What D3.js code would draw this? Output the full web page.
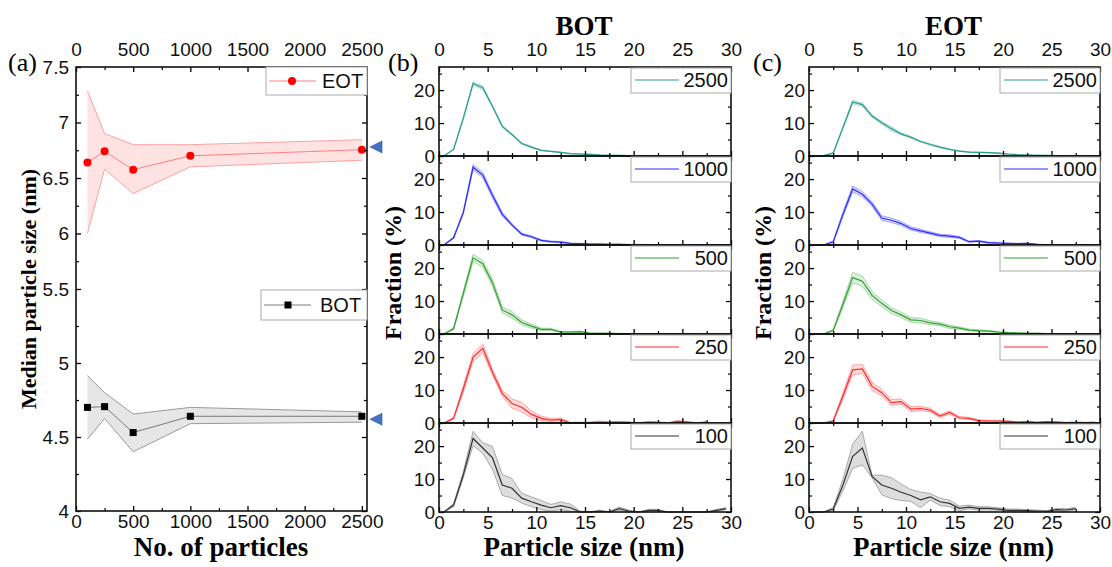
<!DOCTYPE html>
<html lang="en">
<head>
<meta charset="utf-8">
<title>Median particle size and size distributions</title>
<script src="https://cdnjs.cloudflare.com/ajax/libs/d3/7.8.5/d3.min.js"></script>
<style>
 body { margin: 0; background: #fff; }
</style>
</head>
<body>
<svg id="chart" width="1112" height="567"></svg>
<script>
// ---------- panel (a): median size vs number of particles
const nParticles = [100, 250, 500, 1000, 2500];
const eotMedian = [6.64, 6.74, 6.575, 6.70, 6.755];
const eotUpper  = [7.285, 6.90, 6.80, 6.80, 6.845];
const eotLower  = [6.00, 6.58, 6.36, 6.60, 6.66];
const botMedian = [4.70, 4.705, 4.53, 4.64, 4.64];
const botUpper  = [4.915, 4.80, 4.655, 4.70, 4.67];
const botLower  = [4.485, 4.625, 4.40, 4.59, 4.60];
const refMarks  = [6.78, 4.62];   // blue arrows on the right

const xTicksA = [0, 500, 1000, 1500, 2000, 2500];
const xMinorA = [250, 750, 1250, 1750, 2250];
const yTicksA = [4, 4.5, 5, 5.5, 6, 6.5, 7, 7.5];
const yMinorA = [4.25, 4.75, 5.25, 5.75, 6.25, 6.75, 7.25];

// ---------- panels (b),(c): size distributions (bin centres, nm)
const sizeBins = [0.5, 1.5, 2.5, 3.5, 4.5, 5.5, 6.5, 7.5, 8.5, 9.5, 10.5, 11.5, 12.5, 13.5, 14.5,
                  15.5, 16.5, 17.5, 18.5, 19.5, 20.5, 21.5, 22.5, 23.5, 24.5, 25.5, 26.5, 27.5, 28.5, 29.5];
const sampleLabels = ['2500', '1000', '500', '250', '100'];
const sampleColors = ['#2a9d8f', '#2b2bff', '#30a030', '#ff2a2a', '#333333'];

const bot2500 = [0, 2.0, 11.5, 22.0, 20.7, 15.0, 9.0, 6.5, 3.8, 2.7, 1.7, 1.4, 1.1, 0.7, 0.6, 0.5, 0.3, 0.2, 0.2, 0.1, 0.1, 0.1, 0.05, 0.05, 0.05, 0, 0, 0, 0, 0];
const bot2500Err = [0, 0.2, 0.3, 0.5, 0.5, 0.3, 0.3, 0.2, 0.2, 0.2, 0.1, 0.1, 0.1, 0.1, 0.1, 0.1, 0.1, 0.1, 0.05, 0.05, 0.05, 0.05, 0, 0, 0, 0, 0, 0, 0, 0];
const bot1000 = [0, 2.2, 9.9, 23.6, 21.2, 15.0, 9.3, 6.1, 3.3, 2.5, 1.4, 1.0, 0.9, 0.5, 0.4, 0.3, 0.3, 0.2, 0.2, 0.1, 0.1, 0.1, 0.1, 0.1, 0.1, 0.1, 0.05, 0.05, 0.05, 0];
const bot1000Err = [0, 0.2, 0.5, 0.8, 0.8, 0.8, 0.6, 0.4, 0.3, 0.3, 0.2, 0.2, 0.2, 0.1, 0.1, 0.1, 0.1, 0.1, 0.1, 0.1, 0.1, 0.05, 0.05, 0.05, 0.05, 0.05, 0, 0, 0, 0];
const bot500 = [0, 1.6, 12.3, 23.1, 21.3, 15.5, 7.3, 5.8, 3.5, 2.4, 1.4, 1.4, 0.6, 0.6, 0.7, 0.2, 0.2, 0.2, 0.1, 0.1, 0.1, 0.1, 0.05, 0.05, 0.05, 0.05, 0, 0, 0, 0];
const bot500Err = [0, 0.3, 0.8, 1.1, 1.0, 1.0, 0.9, 1.0, 0.8, 0.6, 0.4, 0.3, 0.2, 0.2, 0.2, 0.1, 0.1, 0.1, 0.1, 0.1, 0.05, 0.05, 0.05, 0.05, 0, 0, 0, 0, 0, 0];
const bot250 = [0, 1.4, 10.4, 19.9, 22.7, 15.3, 9.0, 5.9, 4.8, 2.6, 1.4, 0.9, 1.1, 0, 0.1, 0.1, 0.3, 0.2, 0.3, 0.2, 0, 0.3, 0.2, 0, 0.5, 0.3, 0, 0.3, null, null];
const bot250Err = [0, 0.3, 1.0, 1.2, 1.3, 1.0, 0.9, 1.4, 1.5, 1.0, 0.7, 0.5, 0.4, 0.2, 0.2, 0.2, 0.3, 0.2, 0.2, 0.2, 0.1, 0.2, 0.2, 0.1, 0.3, 0.2, 0.1, 0.2, null, null];
const bot100 = [0, 2.1, 11.3, 22.3, 19.4, 16.4, 8.2, 7.2, 4.2, 3.1, 2.1, 1.3, 1.9, 1.3, 0, 0, 0.3, 0, 1.0, 0.3, 0, 0.5, 0.5, 0, 0, 0, 0, 0, 0.5, 1.0];
const bot100Err = [0, 0.5, 1.0, 2.2, 1.6, 3.5, 3.2, 3.0, 1.5, 1.5, 1.4, 1.0, 1.2, 1.1, 0.3, 0.1, 0.3, 0.1, 0.5, 0.3, 0, 0.3, 0.3, 0, 0, 0, 0, 0, 0.3, 0.3];

const eot2500 = [0, 0.1, 0.9, 8.6, 16.4, 15.6, 12.1, 10.1, 8.3, 6.7, 5.7, 4.4, 3.5, 2.7, 2.0, 1.5, 1.2, 1.1, 1.0, 0.9, 0.6, 0.4, 0.3, 0.2, 0.2, 0.1, 0.1, 0.1, 0.1, 0];
const eot2500Err = [0, 0, 0.2, 0.4, 0.5, 0.5, 0.4, 0.4, 0.6, 0.3, 0.3, 0.2, 0.2, 0.2, 0.1, 0.1, 0.1, 0.1, 0.1, 0.1, 0.05, 0.05, 0.05, 0.05, 0, 0, 0, 0, 0, 0];
const eot1000 = [0, 0, 1.0, 9.3, 17.0, 15.4, 12.4, 8.2, 7.5, 6.5, 5.0, 4.3, 3.6, 2.9, 2.7, 2.3, 1.0, 1.2, 0.7, 0.6, 0.5, 0.4, 0.5, 0.2, 0.1, 0.1, 0.1, 0.1, 0.05, 0];
const eot1000Err = [0, 0, 0.3, 0.8, 0.9, 0.8, 0.7, 0.7, 0.7, 0.6, 0.5, 0.5, 0.4, 0.4, 0.4, 0.3, 0.2, 0.2, 0.2, 0.2, 0.1, 0.1, 0.1, 0.1, 0.05, 0.05, 0.05, 0.05, 0, 0];
const eot500 = [0, 0, 1.1, 9.0, 17.1, 16.0, 11.7, 9.3, 7.1, 5.8, 4.3, 4.1, 3.4, 3.0, 2.2, 1.8, 1.2, 1.0, 0.9, 0.6, 0.4, 0.3, 0.2, 0.2, 0.1, 0.1, 0.1, 0.1, 0.1, 0.1];
const eot500Err = [0, 0, 0.3, 1.0, 1.6, 1.6, 1.2, 1.0, 0.9, 0.8, 0.7, 0.7, 0.6, 0.5, 0.5, 0.4, 0.3, 0.3, 0.2, 0.2, 0.1, 0.1, 0.1, 0.1, 0.05, 0.05, 0.05, 0.05, 0.05, 0.05];
const eot250 = [0, 0, 0.6, 8.2, 16.1, 16.4, 11.1, 9.2, 6.2, 6.5, 4.2, 4.4, 3.9, 2.1, 3.2, 1.6, 1.4, 0.7, 0.6, 0.6, 0.5, 0.3, 0.4, 0.2, 0.4, 0.3, 0.1, 0.2, 0.1, 0.2];
const eot250Err = [0, 0, 0.3, 1.0, 1.5, 1.4, 1.2, 1.0, 0.9, 0.8, 0.8, 0.7, 0.6, 0.5, 0.5, 0.4, 0.3, 0.3, 0.2, 0.2, 0.2, 0.1, 0.1, 0.1, 0.1, 0.1, 0.1, 0.1, 0.1, 0.1];
const eot100 = [0, 0, 0.9, 8.2, 16.9, 19.4, 10.8, 8.2, 7.2, 6.0, 5.0, 3.7, 4.6, 3.1, 2.6, 1.1, 1.5, 1.1, 1.1, 0.9, 0.5, 0.5, 0.4, 0.3, 0.2, 0.7, 0.6, 1.0, null, null];
const eot100Err = [0, 0, 0.5, 1.8, 3.7, 5.1, 0.4, 3.0, 3.2, 2.5, 1.8, 2.4, 1.0, 1.1, 1.0, 0.7, 0.6, 0.5, 0.5, 0.4, 0.4, 0.4, 0.3, 0.3, 0.2, 0.4, 0.4, 0.4, null, null];

const xTicksH = [0, 5, 10, 15, 20, 25, 30];
const xMinorH = [2.5, 7.5, 12.5, 17.5, 22.5, 27.5];
const yTicksH = [0, 10, 20];
const yMinorH = [5, 15, 25];

//Display specs
const sansFont = '"Liberation Sans", Arial, sans-serif';
const serifFont = '"Liberation Serif", "Times New Roman", serif';
const svg = d3.select('#chart');

//Inward ticks on one side of a frame
function ticks(g, axisFn, scale, pos, major, minor, labels, pad) {
    const horiz = (axisFn === d3.axisBottom || axisFn === d3.axisTop);
    const t = horiz ? 'translate(0,' + pos + ')' : 'translate(' + pos + ',0)';
    g.append('g').attr('transform', t)
        .call(axisFn(scale).tickValues(minor).tickSizeInner(-3).tickSizeOuter(0).tickFormat(''))
        .call(s => s.select('.domain').remove())
        .call(s => s.selectAll('line').attr('stroke-width', 1.2));
    g.append('g').attr('transform', t)
        .call(axisFn(scale).tickValues(major).tickSizeInner(-5).tickSizeOuter(0).tickPadding(pad)
              .tickFormat(labels ? (d => '' + d) : ''))
        .call(s => s.select('.domain').remove())
        .call(s => s.selectAll('line').attr('stroke-width', 1.3))
        .attr('font-size', 19)
        .attr('font-family', sansFont)
        .call(s => s.selectAll('text').attr('fill', '#111'));
}

function frame(g, x, y) {
    const r = y.range();
    g.append('rect')
        .attr('x', x.range()[0]).attr('y', r[r.length - 1])
        .attr('width', x.range()[1] - x.range()[0])
        .attr('height', r[0] - r[r.length - 1])
        .attr('fill', 'none').attr('stroke', '#111').attr('stroke-width', 1.6);
}

//---------------- panel (a)
const xA = d3.scaleLinear().domain([0, 2545]).range([76, 367]);
const yA = d3.scaleLinear().domain([4, 5.5, 7.5]).range([511, 289, 67]);
const gA = svg.append('g');

const groupsA = [
    {mid: eotMedian, up: eotUpper, lo: eotLower, fill: '#ffe3e3', edge: '#ffa0a0', line: '#ff7f7f', mark: '#ff0000', shape: 'circle'},
    {mid: botMedian, up: botUpper, lo: botLower, fill: '#e6e6e6', edge: '#9a9a9a', line: '#7a7a7a', mark: '#000000', shape: 'square'}
];

groupsA.forEach(function (s) {
    const idx = d3.range(nParticles.length);
    gA.append('path')
        .attr('d', d3.area().x(i => xA(nParticles[i])).y0(i => yA(s.lo[i])).y1(i => yA(s.up[i]))(idx))
        .attr('fill', s.fill);
    [s.up, s.lo].forEach(function (edge) {
        gA.append('path')
            .attr('d', d3.line().x(i => xA(nParticles[i])).y(i => yA(edge[i]))(idx))
            .attr('fill', 'none').attr('stroke', s.edge).attr('stroke-width', 1);
    });
    gA.append('path')
        .attr('d', d3.line().x(i => xA(nParticles[i])).y(i => yA(s.mid[i]))(idx))
        .attr('fill', 'none').attr('stroke', s.line).attr('stroke-width', 1);
    if (s.shape === 'circle') {
        gA.selectAll('.eotpt').data(idx).enter().append('circle')
            .attr('cx', i => xA(nParticles[i])).attr('cy', i => yA(s.mid[i]))
            .attr('r', 4).attr('fill', s.mark);
    } else {
        gA.selectAll('.botpt').data(idx).enter().append('rect')
            .attr('x', i => xA(nParticles[i]) - 3.5).attr('y', i => yA(s.mid[i]) - 3.5)
            .attr('width', 7).attr('height', 7).attr('fill', s.mark);
    }
});

ticks(gA, d3.axisBottom, xA, 511, xTicksA, xMinorA, true, 3);
ticks(gA, d3.axisTop, xA, 67, xTicksA, xMinorA, true, 11);
ticks(gA, d3.axisLeft, yA, 76, yTicksA, yMinorA, true, 7);
ticks(gA, d3.axisRight, yA, 367, yTicksA, yMinorA, false, 0);
frame(gA, xA, yA);

//Reference arrows
gA.selectAll('.ref').data(refMarks).enter().append('path')
    .attr('d', v => 'M370,' + yA(v) + 'L382,' + (yA(v) - 6) + 'L382,' + (yA(v) + 6) + 'Z')
    .attr('fill', '#4472c4').attr('stroke', '#2f5597').attr('stroke-width', 0.6);

//Legends of panel (a)
const legA = [
    {x0: 266, y0: 67, h: 28, label: 'EOT', s: groupsA[0], tx: 322},
    {x0: 261, y0: 290, h: 30, label: 'BOT', s: groupsA[1], tx: 320}
];
legA.forEach(function (l) {
    const cy = l.y0 + l.h / 2;
    gA.append('rect').attr('x', l.x0).attr('y', l.y0).attr('width', 367 - l.x0).attr('height', l.h)
        .attr('fill', '#fff').attr('stroke', '#aaa').attr('stroke-width', 1);
    gA.append('line').attr('x1', l.x0 + 3).attr('x2', l.x0 + 50).attr('y1', cy).attr('y2', cy)
        .attr('stroke', l.s.line).attr('stroke-width', 1);
    if (l.s.shape === 'circle') {
        gA.append('circle').attr('cx', l.x0 + 26).attr('cy', cy).attr('r', 4).attr('fill', l.s.mark);
    } else {
        gA.append('rect').attr('x', l.x0 + 23.5).attr('y', cy - 3.5).attr('width', 7).attr('height', 7).attr('fill', l.s.mark);
    }
    gA.append('text').attr('x', l.tx).attr('y', cy + 7).text(l.label)
        .attr('font-family', sansFont).attr('font-size', 20).attr('fill', '#111');
});

//---------------- panels (b) and (c)
const tops = [67, 156, 245, 334, 423];
const subH = 89;
const columns = [
    {title: 'BOT', tag: '(b)', left: 439, right: 731, tagX: 388, yTitleX: 401,
     vals: [bot2500, bot1000, bot500, bot250, bot100],
     errs: [bot2500Err, bot1000Err, bot500Err, bot250Err, bot100Err]},
    {title: 'EOT', tag: '(c)', left: 809, right: 1100, tagX: 753, yTitleX: 771,
     vals: [eot2500, eot1000, eot500, eot250, eot100],
     errs: [eot2500Err, eot1000Err, eot500Err, eot250Err, eot100Err]}
];

columns.forEach(function (col) {
    const x = d3.scaleLinear().domain([0, 30]).range([col.left, col.right]);
    const gC = svg.append('g');
    tops.forEach(function (top, k) {
        const y = d3.scaleLinear().domain([0, 27]).range([top + subH, top]);
        const v = col.vals[k], e = col.errs[k], color = sampleColors[k];
        const idx = d3.range(sizeBins.length).filter(i => v[i] !== null);
        const g = gC.append('g');
        const lo = i => y(Math.max(0, v[i] - e[i]));
        const hi = i => y(v[i] + e[i]);
        g.append('path')
            .attr('d', d3.area().x(i => x(sizeBins[i])).y0(lo).y1(hi)(idx))
            .attr('fill', color).attr('fill-opacity', 0.17);
        [lo, hi].forEach(function (fy) {
            g.append('path')
                .attr('d', d3.line().x(i => x(sizeBins[i])).y(fy)(idx))
                .attr('fill', 'none').attr('stroke', color).attr('stroke-opacity', 0.45).attr('stroke-width', 0.8);
        });
        g.append('path')
            .attr('d', d3.line().x(i => x(sizeBins[i])).y(i => y(v[i]))(idx))
            .attr('fill', 'none').attr('stroke', color).attr('stroke-width', 1.2);

        ticks(g, d3.axisBottom, x, top + subH, xTicksH, xMinorH, k === tops.length - 1, 3);
        ticks(g, d3.axisTop, x, top, xTicksH, xMinorH, k === 0, 11);
        ticks(g, d3.axisLeft, y, col.left, yTicksH, yMinorH, true, 4);
        ticks(g, d3.axisRight, y, col.right, yTicksH, yMinorH, false, 0);
        frame(g, x, y);

        //legend box
        const bx = col.right - 100, by = top + 1;
        g.append('rect').attr('x', bx).attr('y', by).attr('width', 100).attr('height', 25)
            .attr('fill', '#fff').attr('stroke', '#aaa').attr('stroke-width', 1);
        g.append('line').attr('x1', bx + 4).attr('x2', bx + 48).attr('y1', by + 12).attr('y2', by + 12)
            .attr('stroke', color).attr('stroke-width', 1.2);
        g.append('text').attr('x', col.right - 3).attr('y', by + 19).attr('text-anchor', 'end')
            .text(sampleLabels[k])
            .attr('font-family', sansFont).attr('font-size', 20).attr('fill', '#111');
    });

    gC.append('text').attr('x', (col.left + col.right) / 2 - 1).attr('y', 35)
        .attr('text-anchor', 'middle').text(col.title)
        .attr('font-family', serifFont).attr('font-weight', 'bold').attr('font-size', 27);
    gC.append('text').attr('x', col.tagX).attr('y', 71).text(col.tag)
        .attr('font-family', serifFont).attr('font-size', 26);
    gC.append('text').attr('x', (col.left + col.right) / 2 - 1).attr('y', 556)
        .attr('text-anchor', 'middle').text('Particle size (nm)')
        .attr('font-family', serifFont).attr('font-weight', 'bold').attr('font-size', 27);
    gC.append('text').attr('transform', 'translate(' + col.yTitleX + ',273) rotate(-90)')
        .attr('text-anchor', 'middle').text('Fraction (%)')
        .attr('font-family', serifFont).attr('font-weight', 'bold').attr('font-size', 24);
});

//Panel (a) titles
svg.append('text').attr('x', 8).attr('y', 71).text('(a)')
    .attr('font-family', serifFont).attr('font-size', 26);
svg.append('text').attr('x', 221).attr('y', 556).attr('text-anchor', 'middle').text('No. of particles')
    .attr('font-family', serifFont).attr('font-weight', 'bold').attr('font-size', 27);
svg.append('text').attr('transform', 'translate(36,289) rotate(-90)')
    .attr('text-anchor', 'middle').text('Median particle size (nm)')
    .attr('font-family', serifFont).attr('font-weight', 'bold').attr('font-size', 22);
</script>
</body>
</html>
